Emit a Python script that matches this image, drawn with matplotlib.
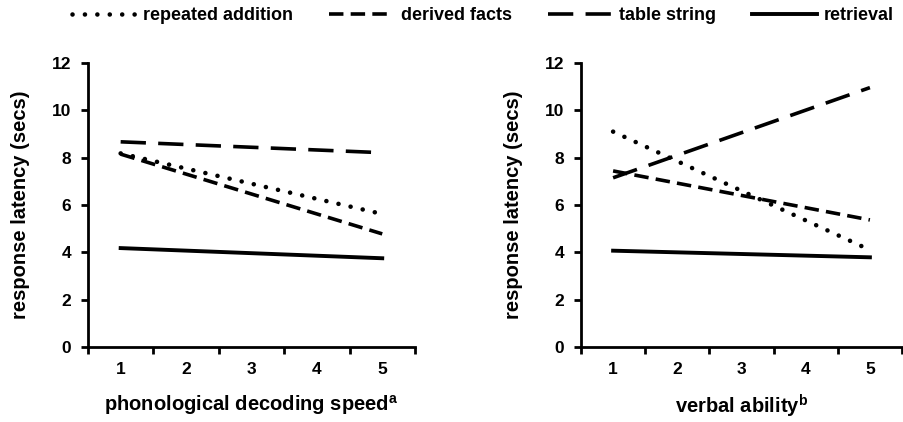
import matplotlib
matplotlib.use("Agg")
import matplotlib.pyplot as plt

plt.rcParams['font.family'] = ['Liberation Sans', 'DejaVu Sans']
plt.rcParams['font.weight'] = 'bold'
plt.rcParams['mathtext.fontset'] = 'custom'
plt.rcParams['mathtext.bf'] = 'Liberation Sans:bold'
plt.rcParams['mathtext.rm'] = 'Liberation Sans:bold'

# Datos (lineas de regresion entre x=1 y x=5)
x_pts = [1, 5]
categorias = [1, 2, 3, 4, 5]

izq_repetida = [8.18, 5.62]
izq_derivados = [8.15, 4.78]
izq_tabla = [8.67, 8.21]
izq_recuperacion = [4.18, 3.75]

der_repetida = [9.10, 4.10]
der_derivados = [7.44, 5.37]
der_tabla = [7.15, 10.96]
der_recuperacion = [4.07, 3.79]

etiquetas = ['repeated addition', 'derived facts', 'table string', 'retrieval']
xlabels = ['phonological decoding speed$^\\mathbf{a}$', 'verbal ability$^\\mathbf{b}$']

# estilos de linea: punteada, guion medio, guion largo, continua
estilos = [
    dict(lw=3.3, linestyle=(0, (0.01, 2.7)), dash_capstyle='round'),
    dict(lw=2.6, linestyle=(0, (4.0, 2.0))),
    dict(lw=2.6, linestyle=(0, (7.0, 3.4))),
    dict(lw=2.8, linestyle='-'),
]

fig = plt.figure(figsize=(9.04, 4.22), dpi=100)
ax1 = fig.add_axes([0.0973, 0.1777, 0.3617, 0.673])
ax2 = fig.add_axes([0.6427, 0.1777, 0.3551, 0.673])

datos = [
    [izq_repetida, izq_derivados, izq_tabla, izq_recuperacion],
    [der_repetida, der_derivados, der_tabla, der_recuperacion],
]

for ax, series, xl in zip([ax1, ax2], datos, xlabels):
    for s, lab, st in zip(series, etiquetas, estilos):
        ax.plot(x_pts, s, color='black', label=lab, clip_on=False, **st)
    ax.set_xlim(0.5, 5.5)
    ax.set_ylim(0, 12)
    ax.set_yticks([0, 2, 4, 6, 8, 10, 12])
    ax.set_xticks([0.5, 1.5, 2.5, 3.5, 4.5, 5.5])
    ax.set_xticklabels([])
    ax.set_xticks(categorias, minor=True)
    ax.set_xticklabels([str(c) for c in categorias], minor=True, fontsize=12.5, fontweight='bold')
    ax.tick_params(axis='x', which='minor', length=0, pad=11)
    ax.tick_params(axis='x', which='major', length=5, width=2, direction='out')
    ax.tick_params(axis='y', length=5, width=2, direction='out', labelsize=12.5, pad=7)
    for t in ax.get_yticklabels():
        t.set_fontweight('bold')
    for sp in ['top', 'right']:
        ax.spines[sp].set_visible(False)
    for sp in ['left', 'bottom']:
        ax.spines[sp].set_linewidth(2)
    ax.set_ylabel('response latency (secs)', fontsize=14.5, fontweight='bold', labelpad=16)
    ax.set_xlabel(xl, fontsize=14.5, fontweight='bold', labelpad=11)

h, l = ax1.get_legend_handles_labels()
fig.legend(h, l, loc='center', bbox_to_anchor=(0.534, 0.963), ncol=4, frameon=False,
           prop={'size': 13, 'weight': 'bold'}, handlelength=3.6, handletextpad=0.35,
           columnspacing=2.0, borderaxespad=0, borderpad=0)

fig.savefig('out.png', dpi=100)
